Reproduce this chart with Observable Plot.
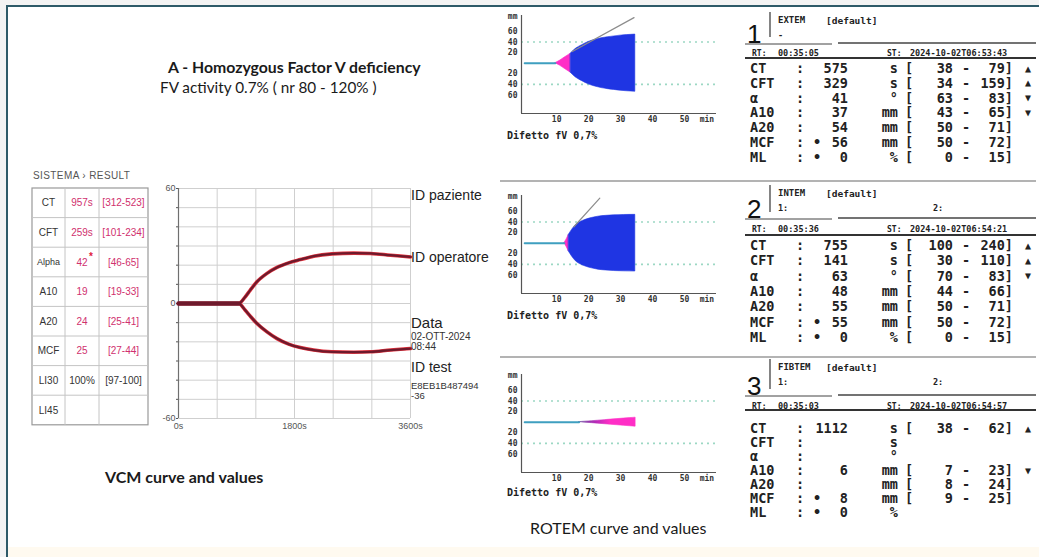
<!DOCTYPE html>
<html>
<head>
<meta charset="utf-8">
<script src="https://cdn.jsdelivr.net/npm/d3@7"></script>
<script src="https://cdn.jsdelivr.net/npm/@observablehq/plot@0.6"></script>
<style>
html,body{margin:0;padding:0;background:#f3f3f3;width:1039px;height:557px;overflow:hidden;}
#page{position:relative;width:1039px;height:557px;overflow:hidden;background:#f3f3f3;}
#frame{position:absolute;left:6px;top:5px;width:1033px;height:552px;background:#fff;border-left:2px solid #2e5a68;border-top:2px solid #2e5a68;box-sizing:border-box;}
#strip{position:absolute;left:8px;top:547px;width:1031px;height:10px;background:#fffaf0;}
.chart{position:absolute;}
.chart svg{background:transparent !important;max-width:none !important;overflow:visible;}
#overlay{position:absolute;left:0;top:0;}
</style>
</head>
<body>
<div id="page">
  <div id="frame"></div>
  <div id="strip"></div>
  <div class="chart" id="vcm" style="left:150px;top:180px;"></div>
  <div class="chart" id="rot1" style="left:500px;top:5px;"></div>
  <div class="chart" id="rot2" style="left:500px;top:180px;"></div>
  <div class="chart" id="rot3" style="left:500px;top:355px;"></div>
  <svg id="overlay" width="1039" height="557"></svg>
</div>
<script>
// ---------------- DATA ----------------
// VCM curve (time in s, amplitude)
const vcmTime  = [0, 932, 1036, 1114, 1217, 1373, 1528, 1709, 1891, 2098, 2383, 2719, 2978, 3289, 3600];
const vcmUpper = [0, 0, 3.5, 7, 11.3, 15.7, 18.8, 21.2, 22.9, 24.7, 25.9, 26.3, 26.1, 25.2, 24.3];
const vcmLower = [0, 0, -3.5, -6.6, -10.4, -14.8, -18.3, -21.2, -23, -24.3, -25.2, -25.4, -25.2, -24.3, -23.5];
const vcmXTicks = [0, 1800, 3600];
const vcmYTicks = [-60, 0, 60];

// VCM result table
const vcmParams = ["CT", "CFT", "Alpha", "A10", "A20", "MCF", "LI30", "LI45"];
const vcmValues = ["957s", "259s", "42", "19", "24", "25", "100%", ""];
const vcmRanges = ["[312-523]", "[101-234]", "[46-65]", "[19-33]", "[25-41]", "[27-44]", "[97-100]", ""];
const vcmInfo = ["ID paziente", "ID operatore", "Data", "02-OTT-2024", "08:44", "ID test", "E8EB1B487494", "-36"];

// ROTEM curves (time in min, half amplitude in mm)
const extemBaseT = [0, 9.6];
const extemPinkT = [9.6, 11, 12.5, 14.4];
const extemPinkA = [0, 4.5, 10.5, 18];
const extemBlueT = [14.4, 16, 18, 20, 22, 24, 26, 28, 30, 32, 34.6];
const extemBlueA = [18, 27, 34, 40, 44, 47, 49, 50.5, 52, 53, 54];
const extemAlphaT = [14.9, 34.2];
const extemAlphaA = [22, 86];

const intemBaseT = [0, 12.4];
const intemPinkT = [12.4, 13.1, 13.8];
const intemPinkA = [0, 7, 15.7];
const intemBlueT = [13.8, 14.8, 16, 17, 18.2, 19.5, 21, 23, 25.5, 28, 31, 34.6];
const intemBlueA = [15.7, 25, 34, 38.5, 42, 45, 47.5, 50, 51.6, 52.6, 53.2, 53.5];
const intemAlphaT = [15.4, 23.5];
const intemAlphaA = [31, 85];

const fibtemBaseT = [0, 17];
const fibtemPinkT = [17, 19, 21, 23, 25, 27, 29, 31, 33, 34.7];
const fibtemPinkA = [0, 1, 1.8, 2.8, 3.8, 4.9, 5.8, 6.8, 7.7, 8.5];

const rotemXTicks = [10, 20, 30, 40, 50];
const rotemYTicks = [-60, -40, -20, 20, 40, 60];
const rotemRefLines = [-40, 40];
const rotemSample = "Difetto fV 0,7%";

// ROTEM tables
const rotemParams = ["CT", "CFT", "α", "A10", "A20", "MCF", "ML"];
const rotemUnits  = ["s", "s", "°", "mm", "mm", "mm", "%"];
const rotemStar   = ["", "", "", "", "", "•", "•"];
const rotemNums   = ["1", "2", "3"];
const rotemNames  = ["EXTEM", "INTEM", "FIBTEM"];
const rotemSub1   = ["-", "1:", "1:"];
const rotemSub2   = ["", "2:", "2:"];
const rotemRT     = ["00:35:05", "00:35:36", "00:35:03"];
const rotemST     = ["2024-10-02T06:53:43", "2024-10-02T06:54:21", "2024-10-02T06:54:57"];
const extemValues = ["575", "329", "41", "37", "54", "56", "0"];
const extemLow    = ["38", "34", "63", "43", "50", "50", "0"];
const extemHigh   = ["79", "159", "83", "65", "71", "72", "15"];
const extemFlags  = ["▲", "▲", "▼", "▼", "", "", ""];
const intemValues = ["755", "141", "63", "48", "55", "55", "0"];
const intemLow    = ["100", "30", "70", "44", "50", "50", "0"];
const intemHigh   = ["240", "110", "83", "66", "71", "72", "15"];
const intemFlags  = ["▲", "▲", "▼", "", "", "", ""];
const fibtemValues = ["1112", "", "", "6", "", "8", "0"];
const fibtemLow    = ["38", "", "", "7", "8", "9", ""];
const fibtemHigh   = ["62", "", "", "23", "24", "25", ""];
const fibtemFlags  = ["▲", "", "", "▼", "", "", ""];

const titleText = "A - Homozygous Factor V deficiency";
const subtitleText = "FV activity 0.7% ( nr 80 - 120% )";
const vcmCaption = "VCM curve and values";
const rotemCaption = "ROTEM curve and values";

// ---------------- COLOURS / FONTS ----------------
const BLUE = "#1f35e3", PINK = "#ff2ec6", BASE = "#3f9fc0";
const MONO = "'DejaVu Sans Mono', monospace";
const SANS = "'Liberation Sans', Arial, sans-serif";
const NARROW = "'Liberation Sans Narrow', 'Liberation Sans', Arial, sans-serif";
const HUM = "Lato, 'Open Sans', sans-serif";

// ---------------- VCM CHART ----------------
const vcmData = vcmTime.map((t, i) => ({t, up: vcmUpper[i], lo: vcmLower[i]}));
const vcmFlat = vcmData.filter(d => d.up === 0);
const vcmChart = Plot.plot({
  width: 290, height: 260,
  marginLeft: 28, marginRight: 30, marginTop: 8, marginBottom: 22,
  x: {domain: [0, 3600]},
  y: {domain: [-60, 60]},
  style: {fontFamily: SANS, fontSize: "9px", color: "#555", background: "transparent"},
  marks: [
    Plot.ruleX(d3.range(0, 3601, 600), {stroke: "#cfcfcf", strokeWidth: 1}),
    Plot.ruleY(d3.range(-60, 61, 10), {stroke: "#cfcfcf", strokeWidth: 1}),
    Plot.ruleX([0], {stroke: "#6f6f6f", strokeWidth: 1.2}),
    Plot.axisX({ticks: vcmXTicks, tickFormat: d => d + "s", tickSize: 0, tickPadding: 4, label: null}),
    Plot.axisY({ticks: d3.range(-60, 61, 10), tickFormat: d => vcmYTicks.includes(d) ? `${d}` : "", tickSize: 2, tickPadding: 1, label: null}),
    Plot.lineY(vcmData, {x: "t", y: "up", curve: "monotone-x", stroke: "#e3343f", strokeWidth: 3.6}),
    Plot.lineY(vcmData, {x: "t", y: "lo", curve: "monotone-x", stroke: "#e3343f", strokeWidth: 3.6}),
    Plot.lineY(vcmData, {x: "t", y: "up", curve: "monotone-x", stroke: "#6e1a2c", strokeWidth: 2.3}),
    Plot.lineY(vcmData, {x: "t", y: "lo", curve: "monotone-x", stroke: "#6e1a2c", strokeWidth: 2.3}),
    Plot.lineY(vcmFlat, {x: "t", y: "up", stroke: "#6e1a2c", strokeWidth: 4.5})
  ]
});
document.getElementById("vcm").append(vcmChart);

// ---------------- ROTEM CHARTS ----------------
function zip(T, A) { return T.map((t, i) => ({t, a: A[i]})); }
function rotemChart(cfg) {
  const marks = [
    Plot.ruleY(rotemRefLines, {x1: -1, x2: 60, stroke: "#9cd8c4", strokeWidth: 1.6, strokeDasharray: "2,4"}),
  ];
  for (const seg of cfg.areas) {
    marks.push(Plot.areaY(seg.data, {x: "t", y1: d => -d.a, y2: d => d.a, fill: seg.fill, stroke: seg.fill, strokeWidth: 0.6, curve: "monotone-x"}));
  }
  marks.push(
    Plot.line(cfg.base.map(t => ({t, a: 0})), {x: "t", y: "a", stroke: BASE, strokeWidth: 2}),
  );
  if (cfg.alpha) marks.push(Plot.line(cfg.alpha, {x: "t", y: "a", stroke: "#8c8c8c", strokeWidth: 1.2}));
  marks.push(
    Plot.ruleX([-1], {stroke: "#555", strokeWidth: 1.2}),
    Plot.ruleY([-95], {stroke: "#555", strokeWidth: 1.2}),
    Plot.axisX({ticks: [...rotemXTicks, 57], tickFormat: d => d === 57 ? "min" : d, tickSize: 0, tickPadding: 3, label: null}),
    Plot.axisY({ticks: [...rotemYTicks, 88], tickFormat: d => d === 88 ? "mm" : Math.abs(d), tickSize: 0, tickPadding: 4, label: null})
  );
  return Plot.plot({
    width: 230, height: cfg.height,
    marginLeft: 21, marginRight: 14, marginTop: cfg.mt, marginBottom: cfg.height - cfg.mt - 98,
    x: {domain: [-1, 60]},
    y: {domain: [-95, 90]},
    style: {fontFamily: MONO, fontSize: "8px", fontWeight: "bold", color: "#333", background: "transparent"},
    marks
  });
}
document.getElementById("rot1").append(rotemChart({
  height: 125, mt: 10, base: extemBaseT,
  areas: [{data: zip(extemPinkT, extemPinkA), fill: PINK}, {data: zip(extemBlueT, extemBlueA), fill: BLUE}],
  alpha: zip(extemAlphaT, extemAlphaA)
}));
document.getElementById("rot2").append(rotemChart({
  height: 130, mt: 15, base: intemBaseT,
  areas: [{data: zip(intemPinkT, intemPinkA), fill: PINK}, {data: zip(intemBlueT, intemBlueA), fill: BLUE}],
  alpha: zip(intemAlphaT, intemAlphaA)
}));
document.getElementById("rot3").append(rotemChart({
  height: 134, mt: 19, base: fibtemBaseT,
  areas: [{data: zip(fibtemPinkT, fibtemPinkA), fill: "url(#fibGrad)"}],
  alpha: null
}));

// ---------------- OVERLAY (texts, tables) ----------------
const ov = d3.select("#overlay");
const grad = ov.append("defs").append("linearGradient").attr("id", "fibGrad")
  .attr("x1", "0").attr("x2", "1").attr("y1", "0").attr("y2", "0");
grad.append("stop").attr("offset", "0%").attr("stop-color", "#6a4fa0");
grad.append("stop").attr("offset", "30%").attr("stop-color", "#b52ab8");
grad.append("stop").attr("offset", "55%").attr("stop-color", PINK);
grad.append("stop").attr("offset", "100%").attr("stop-color", PINK);

function txt(x, y, s, o = {}) {
  return ov.append("text").attr("x", x).attr("y", y)
    .attr("dominant-baseline", o.baseline || "central")
    .attr("text-anchor", o.anchor || "start")
    .style("font-family", o.font || SANS)
    .style("font-size", o.size || "12px")
    .style("font-weight", o.weight || "normal")
    .style("letter-spacing", o.ls || "normal")
    .attr("fill", o.fill || "#111")
    .text(s);
}
function line(x1, y1, x2, y2, stroke, w) {
  ov.append("line").attr("x1", x1).attr("y1", y1).attr("x2", x2).attr("y2", y2)
    .attr("stroke", stroke).attr("stroke-width", w);
}

// Titles
txt(168, 66, titleText, {font: HUM, size: "15.8px", weight: "bold", fill: "#1a1a1a"});
txt(160, 87, subtitleText, {font: HUM, size: "15.3px", fill: "#1a1a1a"});
txt(105, 476, vcmCaption, {font: HUM, size: "16px", weight: "bold", fill: "#1a1a1a"});
txt(530, 527, rotemCaption, {font: HUM, size: "16px", fill: "#1a1a1a"});

// VCM table
txt(33, 175, "SISTEMA › RESULT", {size: "10px", fill: "#555", ls: "0.4px"});
const tX = [32, 65, 99, 148], tY0 = 188, rowH = 29.6;
ov.append("rect").attr("x", tX[0]).attr("y", tY0).attr("width", tX[3] - tX[0]).attr("height", rowH * 8)
  .attr("fill", "none").attr("stroke", "#999").attr("stroke-width", 1.2);
for (let i = 1; i < 8; i++) line(tX[0], tY0 + i * rowH, tX[3], tY0 + i * rowH, "#c4c4c4", 1);
line(tX[1], tY0, tX[1], tY0 + 8 * rowH, "#c4c4c4", 1);
line(tX[2], tY0, tX[2], tY0 + 8 * rowH, "#c4c4c4", 1);
vcmParams.forEach((p, i) => {
  const y = tY0 + rowH * (i + 0.5);
  const red = i < 6;
  txt((tX[0] + tX[1]) / 2, y, p, {anchor: "middle", size: p === "Alpha" ? "9px" : "10px", font: NARROW, fill: "#333"});
  txt((tX[1] + tX[2]) / 2, y, vcmValues[i], {anchor: "middle", size: "10px", font: NARROW, fill: red ? "#d0306e" : "#333"});
  txt((tX[2] + tX[3]) / 2, y, vcmRanges[i], {anchor: "middle", size: "10px", font: NARROW, fill: red ? "#d0306e" : "#333"});
  if (p === "Alpha") txt((tX[1] + tX[2]) / 2 + 7, y - 6, "*", {size: "10px", fill: "#e0203a", weight: "bold"});
});

// VCM side labels
txt(411, 195, vcmInfo[0], {size: "14px", fill: "#222"});
txt(411, 257, vcmInfo[1], {size: "14px", fill: "#222"});
txt(411, 322, vcmInfo[2], {size: "15px", fill: "#222"});
txt(411, 336, vcmInfo[3], {size: "10px", fill: "#333"});
txt(411, 346, vcmInfo[4], {size: "10px", fill: "#333"});
txt(411, 367, vcmInfo[5], {size: "14px", fill: "#222"});
txt(411, 385, vcmInfo[6], {size: "9.5px", fill: "#333"});
txt(411, 395, vcmInfo[7], {size: "9.5px", fill: "#333"});

// ROTEM sample labels
[135, 315, 492].forEach(y => txt(507, y, rotemSample, {font: MONO, size: "10px", weight: "bold", fill: "#222"}));

// Separators between ROTEM blocks
line(500, 181, 1036, 181, "#9a9a9a", 1.5);
line(500, 357, 1036, 357, "#9a9a9a", 1.5);

// ROTEM tables
const layouts = [
  {nameY: 20, lineY: 43, rtY: 52, line2Y: 58, ctY: 68, step: 14.8},
  {nameY: 193, lineY: 218, rtY: 228, line2Y: 235, ctY: 245, step: 15.3},
  {nameY: 367, lineY: 395, rtY: 405, line2Y: 410, ctY: 428, step: 14}
];
const tableVals = [
  [extemValues, extemLow, extemHigh, extemFlags],
  [intemValues, intemLow, intemHigh, intemFlags],
  [fibtemValues, fibtemLow, fibtemHigh, fibtemFlags]
];
const rowFont = {font: MONO, size: "13.5px", weight: "bold", fill: "#222"};
const smallFont = {font: MONO, size: "8.5px", weight: "bold", fill: "#222"};
layouts.forEach((L, k) => {
  const [vals, lo, hi, flags] = tableVals[k];
  txt(747, L.lineY, rotemNums[k], {font: SANS, size: "26px", baseline: "alphabetic", fill: "#111"});
  line(770, L.nameY - 8, 770, L.lineY - 6, "#333", 1.2);
  txt(778, L.nameY, rotemNames[k], {...smallFont, size: "9px"});
  txt(826, L.nameY, "[default]", {...smallFont, size: "9.5px"});
  txt(778, L.nameY + 15, rotemSub1[k], smallFont);
  if (rotemSub2[k]) txt(933, L.nameY + 15, rotemSub2[k], smallFont);
  line(745, L.lineY + 1, 832, L.lineY + 1, "#444", 1);
  line(838, L.lineY, 1036, L.lineY, "#444", 1.5);
  txt(752, L.rtY + 1, "RT:", {...smallFont, size: "8px"});
  txt(778, L.rtY + 1, rotemRT[k], smallFont);
  txt(887, L.rtY + 1, "ST:", {...smallFont, size: "8px"});
  txt(910, L.rtY + 1, rotemST[k], smallFont);
  line(745, L.line2Y, 1036, L.line2Y, "#333", 2);
  rotemParams.forEach((p, i) => {
    const y = L.ctY + i * L.step;
    txt(750, y, p, rowFont);
    txt(800, y, ":", {...rowFont, anchor: "middle"});
    if (rotemStar[i]) txt(817, y, rotemStar[i], {...rowFont, anchor: "middle"});
    if (vals[i]) txt(848, y, vals[i], {...rowFont, anchor: "end"});
    txt(898, y, rotemUnits[i], {...rowFont, anchor: "end"});
    if (lo[i]) {
      txt(909, y, "[", {...rowFont, anchor: "middle"});
      txt(953, y, lo[i], {...rowFont, anchor: "end"});
      txt(966, y, "-", {...rowFont, anchor: "middle"});
      txt(1013, y, hi[i] + "]", {...rowFont, anchor: "end"});
    }
    if (flags[i]) txt(1028, y, flags[i], {...rowFont, anchor: "middle", size: "10px"});
  });
});
</script>
</body>
</html>
